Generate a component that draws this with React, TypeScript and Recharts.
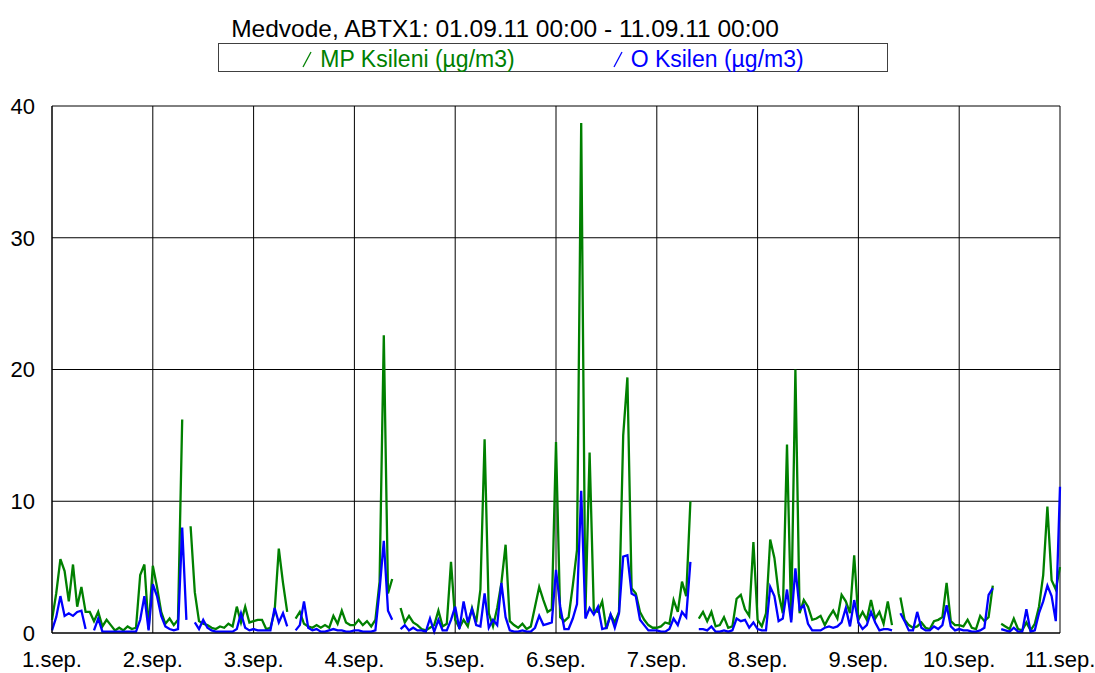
import React from "react";
import { LineChart, Line, XAxis, YAxis, CartesianGrid } from "recharts";

const FONT = "'Liberation Sans', Arial, sans-serif";

const title = "Medvode, ABTX1: 01.09.11 00:00 - 11.09.11 00:00";

const dayLabels = [
  "1.sep.", "2.sep.", "3.sep.", "4.sep.", "5.sep.", "6.sep.",
  "7.sep.", "8.sep.", "9.sep.", "10.sep.", "11.sep.",
];
const yTicks = [0, 10, 20, 30, 40];

// hourly values, one row per day, null = missing measurement
const mpKsileni: (number | null)[] = [
  1.0, 3.0, 5.6, 4.7, 2.4, 5.2, 2.0, 3.5, 1.6, 1.6, 0.9, 1.6, 0.5, 1.0, 0.6, 0.2, 0.4, 0.2, 0.5, 0.3, 0.4, 4.4, 5.2, 0.3,
  5.1, 3.5, 1.6, 0.7, 1.1, 0.6, 1.0, 16.2, null, 8.1, 3.1, 0.9, 0.7, 0.6, 0.4, 0.3, 0.5, 0.4, 0.7, 0.5, 2.0, 0.8, 2.0, 0.8,
  0.9, 1.0, 1.0, 0.3, 0.4, 1.6, 6.4, 3.8, 1.6, null, 1.1, 1.6, 0.7, 0.5, 0.4, 0.6, 0.4, 0.6, 0.4, 1.3, 0.7, 1.7, 0.8, 0.6,
  0.6, 1.0, 0.6, 0.9, 0.5, 1.0, 3.9, 22.6, 3.0, 4.1, null, 1.9, 0.8, 1.3, 0.8, 0.6, 0.3, 0.2, 0.4, 0.6, 1.7, 0.5, 0.7, 5.4,
  1.0, 0.4, 1.0, 0.5, 1.9, 0.8, 3.3, 14.7, 1.5, 0.5, 1.9, 3.8, 6.7, 0.9, 0.6, 0.4, 0.7, 0.3, 0.5, 2.0, 3.5, 2.5, 1.6, 1.8,
  14.5, 1.2, 0.9, 1.2, 3.6, 6.3, 38.7, 1.5, 13.7, 1.7, 1.6, 2.4, 0.3, 1.4, 0.8, 1.6, 15.0, 19.4, 3.4, 3.0, 1.6, 1.0, 0.6, 0.4,
  0.4, 0.5, 0.8, 0.7, 2.5, 1.6, 3.9, 2.8, 10.0, null, 1.1, 1.6, 0.9, 1.6, 0.5, 0.6, 1.2, 0.4, 0.5, 2.6, 2.9, 1.8, 1.3, 6.9,
  1.0, 0.5, 1.5, 7.1, 5.7, 3.0, 1.5, 14.3, 1.0, 20.0, 1.5, 2.5, 2.0, 1.0, 1.1, 1.3, 0.6, 1.2, 1.7, 1.1, 2.9, 2.4, 1.5, 5.9,
  1.0, 1.6, 1.0, 2.5, 1.1, 1.6, 0.7, 2.4, 0.6, null, 2.7, 1.0, 0.6, 0.4, 0.5, 0.8, 0.4, 0.3, 0.9, 1.0, 1.2, 3.8, 0.9, 0.6,
  0.6, 0.5, 1.0, 0.4, 0.3, 1.3, 0.9, 1.2, 3.6, null, 0.7, 0.5, 0.3, 1.1, 0.3, 0.2, 0.8, 0.2, 0.7, 2.0, 4.4, 9.6, 4.0, 3.3,
  5.0,
];

const oKsilen: (number | null)[] = [
  0.2, 1.2, 2.8, 1.3, 1.5, 1.3, 1.6, 1.7, 0.3, null, 0.2, 1.1, 0.1, 0.1, 0.1, 0.1, 0.1, 0.1, 0.1, 0.1, 0.1, 1.0, 2.8, 0.2,
  3.7, 2.8, 1.3, 0.5, 0.3, 0.2, 0.3, 8.0, 1.0, null, 0.8, 0.3, 1.0, 0.4, 0.2, 0.1, 0.1, 0.1, 0.1, 0.1, 0.3, 1.5, 0.4, 0.2,
  0.3, 0.2, 0.2, 0.2, 0.2, 1.9, 0.8, 1.5, 0.5, null, 0.2, 0.6, 2.4, 0.4, 0.2, 0.3, 0.1, 0.1, 0.2, 0.3, 0.2, 0.2, 0.1, 0.1,
  0.2, 0.2, 0.1, 0.1, 0.1, 0.2, 3.3, 7.0, 1.7, 1.0, null, 0.3, 0.6, 0.2, 0.4, 0.2, 0.2, 0.1, 1.1, 0.1, 1.0, 0.2, 0.2, 1.0,
  2.0, 0.3, 2.4, 0.8, 1.8, 0.6, 0.5, 3.0, 0.4, 1.0, 0.6, 3.8, 1.2, 0.2, 0.1, 0.1, 0.2, 0.1, 0.1, 0.4, 1.3, 0.6, 0.7, 0.8,
  4.8, 2.0, 0.3, 0.3, 1.1, 2.2, 10.8, 1.1, 1.9, 1.4, 2.0, 0.3, 0.4, 1.4, 0.4, 1.5, 5.8, 5.9, 3.0, 2.8, 1.0, 0.6, 0.2, 0.2,
  0.2, 0.1, 0.1, 0.3, 1.1, 0.6, 1.6, 1.2, 5.4, null, 0.3, 0.3, 0.2, 0.5, 0.1, 0.1, 0.2, 0.1, 0.2, 1.1, 0.9, 1.0, 0.4, 0.8,
  0.3, 0.2, 0.2, 3.5, 2.8, 0.9, 1.1, 3.3, 0.8, 4.9, 1.8, 2.1, 0.7, 0.2, 0.2, 0.2, 0.4, 0.5, 0.4, 0.5, 0.8, 1.9, 0.5, 2.5,
  0.8, 0.3, 0.6, 1.6, 0.8, 0.2, 0.3, 0.3, 0.2, null, 1.5, 0.9, 0.2, 0.2, 1.6, 0.4, 0.2, 0.2, 0.5, 0.3, 0.6, 2.1, 0.5, 0.2,
  0.3, 0.2, 0.2, 0.1, 0.1, 0.2, 0.4, 2.9, 3.4, null, 0.3, 0.2, 0.1, 0.4, 0.1, 0.1, 1.8, 0.1, 0.2, 1.5, 2.4, 3.6, 2.8, 0.9,
  11.1,
];

const series = [
  { key: "mp", name: "MP Ksileni (µg/m3)", color: "#008000" },
  { key: "o", name: "O Ksilen (µg/m3)", color: "#0000ff" },
];

const chartData = mpKsileni.map((mp, i) => ({ hour: i, mp, o: oKsilen[i] }));
const dayTicks = dayLabels.map((_, i) => i * 24);

const App = () => {
  return (
    <div
      style={{
        position: "absolute",
        left: 0,
        top: 0,
        width: 1095,
        height: 673,
        background: "#fff",
        fontFamily: FONT,
      }}
    >
      <LineChart
        width={1095}
        height={673}
        data={chartData}
        margin={{ top: 106, right: 35, bottom: 0, left: 0 }}
      >
        <CartesianGrid stroke="#000" />
        <XAxis
          dataKey="hour"
          type="number"
          domain={[0, 240]}
          ticks={dayTicks}
          interval={0}
          tickFormatter={(v: number) => dayLabels[Math.round(v / 24)]}
          axisLine={{ stroke: "#000" }}
          tickLine={false}
          tickMargin={12}
          height={40}
          tick={{ fill: "#000", fontSize: 22, fontFamily: FONT }}
        />
        <YAxis
          type="number"
          domain={[0, 40]}
          ticks={yTicks}
          interval={0}
          width={52}
          axisLine={{ stroke: "#000" }}
          tickLine={false}
          tickMargin={11}
          tick={{ fill: "#000", fontSize: 22, fontFamily: FONT }}
        />
        {series.map((s) => (
          <Line
            key={s.key}
            type="linear"
            dataKey={s.key}
            name={s.name}
            stroke={s.color}
            strokeWidth={2.3}
            dot={false}
            activeDot={false}
            connectNulls={false}
            isAnimationActive={false}
          />
        ))}
      </LineChart>

      {/* title */}
      <div
        style={{
          position: "absolute",
          left: 505,
          top: 17,
          transform: "translateX(-50%)",
          fontSize: 24.5,
          lineHeight: "24px",
          whiteSpace: "nowrap",
          color: "#000",
        }}
      >
        {title}
      </div>

      {/* legend box */}
      <div
        style={{
          position: "absolute",
          left: 218,
          top: 43,
          width: 670,
          height: 29,
          boxSizing: "border-box",
          border: "1px solid #404040",
          display: "flex",
          justifyContent: "center",
          alignItems: "center",
          gap: 98,
          paddingTop: 3,
          fontSize: 23,
          lineHeight: "23px",
        }}
      >
        {series.map((s) => (
          <span
            key={s.key}
            style={{ color: s.color, display: "flex", alignItems: "center", whiteSpace: "nowrap" }}
          >
            <svg width={10} height={18}>
              <line x1={1} y1={17} x2={9} y2={2} stroke={s.color} strokeWidth={1.3} />
            </svg>
            <span style={{ marginLeft: 8 }}>{s.name}</span>
          </span>
        ))}
      </div>
    </div>
  );
};

export default App;
